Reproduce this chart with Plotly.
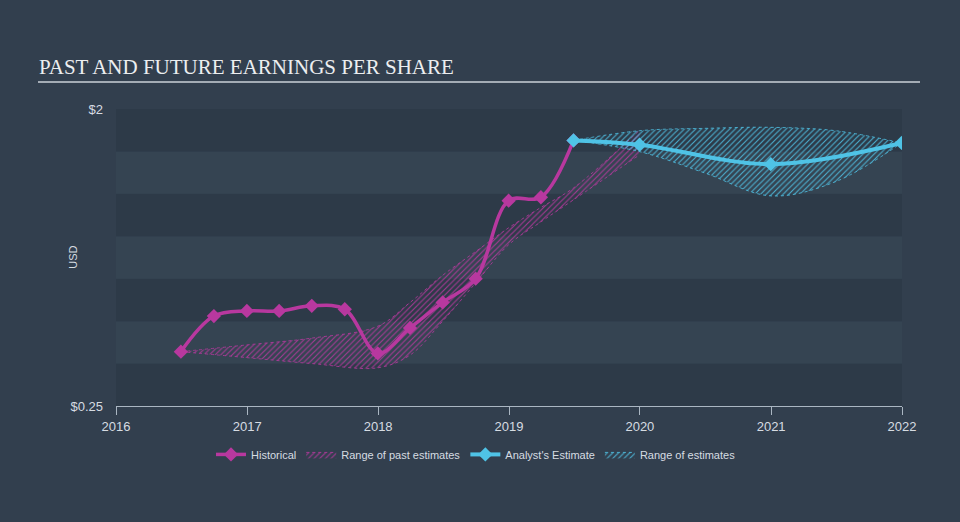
import plotly.graph_objects as go

# ---- data ----
hist_dates = ["2016-06-30", "2016-09-30", "2016-12-31", "2017-03-31", "2017-06-30",
              "2017-09-30", "2017-12-31", "2018-03-31", "2018-06-30", "2018-09-30",
              "2018-12-31", "2019-03-31", "2019-06-30"]
hist_eps = [0.57, 0.78, 0.81, 0.81, 0.84, 0.82, 0.56, 0.71, 0.86, 1.00, 1.46, 1.48, 1.815]

fc_dates = ["2019-06-30", "2019-12-31", "2020-12-31", "2021-12-31"]
fc_eps = [1.815, 1.79, 1.675, 1.80]

past_rng_dates = ["2016-06-30", "2016-12-31", "2017-06-30", "2017-12-31", "2018-03-31",
                  "2018-06-30", "2018-09-30", "2018-12-31", "2019-03-31", "2019-06-30",
                  "2019-12-31"]
past_rng_high = [0.57, 0.61, 0.65, 0.72, 0.86, 1.02, 1.16, 1.30, 1.42, 1.535, 1.875]
past_rng_low = [0.57, 0.535, 0.50, 0.475, 0.55, 0.75, 0.975, 1.20, 1.335, 1.465, 1.73]

fut_rng_dates = ["2019-06-30", "2019-12-31", "2020-06-30", "2020-12-31", "2021-06-30", "2021-12-31"]
fut_rng_high = [1.815, 1.872, 1.886, 1.892, 1.872, 1.80]
fut_rng_low = [1.815, 1.749, 1.623, 1.488, 1.572, 1.80]

y_tickvals = [0.25, 2.0]
y_ticktext = ["$0.25", "$2"]
x_tickvals = ["2016-01-01", "2017-01-01", "2018-01-01", "2019-01-01",
              "2020-01-01", "2021-01-01", "2022-01-01"]
x_ticktext = ["2016", "2017", "2018", "2019", "2020", "2021", "2022"]
band_edges = [0.25, 0.5, 0.75, 1.0, 1.25, 1.5, 1.75, 2.0]

# ---- style ----
MAG = "#b8389f"
BLUE = "#4fc3e6"
BG = "#323f4e"
BAND_DARK = "#2d3a48"
BAND_LIGHT = "#354452"
TXT = "#d6dce2"
AXIS = "#aab6c2"

PL, PR, PT, PB = 116, 902, 109, 406.5
PW, PH = PR - PL, PB - PT


def px_x(px):
    return (px - PL) / PW


def px_y(py):
    return (PB - py) / PH


fig = go.Figure()

# past range
fig.add_trace(go.Scatter(x=past_rng_dates, y=past_rng_low, mode="lines",
                         line=dict(color=MAG, width=0.8, dash="dot", shape="spline"),
                         showlegend=False, hoverinfo="skip"))
fig.add_trace(go.Scatter(x=past_rng_dates, y=past_rng_high, mode="lines",
                         line=dict(color=MAG, width=0.8, dash="dot", shape="spline"),
                         fill="tonexty", fillcolor="rgba(0,0,0,0)",
                         fillpattern=dict(shape="/", fgcolor=MAG, bgcolor="rgba(0,0,0,0)",
                                          size=4, solidity=0.28, fgopacity=0.85),
                         name="Range of past estimates", legendrank=2))
# future range
fig.add_trace(go.Scatter(x=fut_rng_dates, y=fut_rng_low, mode="lines",
                         line=dict(color=BLUE, width=0.8, dash="dot", shape="spline"),
                         showlegend=False, hoverinfo="skip"))
fig.add_trace(go.Scatter(x=fut_rng_dates, y=fut_rng_high, mode="lines",
                         line=dict(color=BLUE, width=0.8, dash="dot", shape="spline"),
                         fill="tonexty", fillcolor="rgba(0,0,0,0)",
                         fillpattern=dict(shape="/", fgcolor=BLUE, bgcolor="rgba(0,0,0,0)",
                                          size=4, solidity=0.28, fgopacity=0.85),
                         name="Range of estimates", legendrank=4))
# historical
fig.add_trace(go.Scatter(x=hist_dates, y=hist_eps, mode="lines+markers",
                         line=dict(color=MAG, width=3.5, shape="spline"),
                         marker=dict(symbol="diamond", size=11, color=MAG),
                         name="Historical", legendrank=1))
# forecast
fig.add_trace(go.Scatter(x=fc_dates, y=fc_eps, mode="lines+markers",
                         line=dict(color=BLUE, width=4, shape="spline"),
                         marker=dict(symbol="diamond", size=11, color=BLUE),
                         name="Analyst's Estimate", legendrank=3))

shapes = []
for i in range(len(band_edges) - 1):
    shapes.append(dict(type="rect", xref="x domain", yref="y",
                       x0=0, x1=1, y0=band_edges[i], y1=band_edges[i + 1],
                       fillcolor=BAND_DARK if i % 2 == 0 else BAND_LIGHT,
                       line=dict(width=0), layer="below"))
# title underline
shapes.append(dict(type="line", xref="paper", yref="paper",
                   x0=px_x(38), x1=px_x(920), y0=px_y(82), y1=px_y(82),
                   line=dict(color="#a4acb5", width=2)))

fig.update_layout(
    width=960, height=522,
    margin=dict(l=PL, r=960 - PR, t=PT, b=522 - PB, pad=0),
    paper_bgcolor=BG, plot_bgcolor=BG,
    shapes=shapes,
    showlegend=True,
    legend=dict(orientation="h", x=px_x(476), xanchor="center", y=px_y(455), yanchor="middle",
                traceorder="normal",
                font=dict(family="Liberation Sans", size=11, color=TXT),
                bgcolor="rgba(0,0,0,0)", itemwidth=30, tracegroupgap=0),
    annotations=[
        dict(text="PAST AND FUTURE EARNINGS PER SHARE", xref="paper", yref="paper",
             x=px_x(37), y=px_y(67), xanchor="left", yanchor="middle",
             showarrow=False,
             font=dict(family="Liberation Serif", size=21, color="#eceef0")),
        dict(text="USD", xref="paper", yref="paper",
             x=px_x(73), y=px_y(258), xanchor="center", yanchor="middle",
             textangle=-90, showarrow=False,
             font=dict(family="Liberation Sans", size=11, color=TXT)),
    ],
    xaxis=dict(type="date", range=["2016-01-01", "2022-01-01"],
               tickvals=x_tickvals, ticktext=x_ticktext,
               showgrid=False, zeroline=False,
               showline=True, linecolor=AXIS, linewidth=1,
               ticks="outside", ticklen=8, tickcolor=AXIS,
               tickfont=dict(family="Liberation Sans", size=13, color=TXT)),
    yaxis=dict(range=[0.25, 2.0], tickvals=y_tickvals, ticktext=y_ticktext,
               showgrid=False, zeroline=False, showline=False, ticks="",
               ticklabelstandoff=12,
               tickfont=dict(family="Liberation Sans", size=13, color=TXT)),
)

fig.write_html("out.html", config={"displayModeBar": False},
               post_script="document.body.style.margin='0';")
